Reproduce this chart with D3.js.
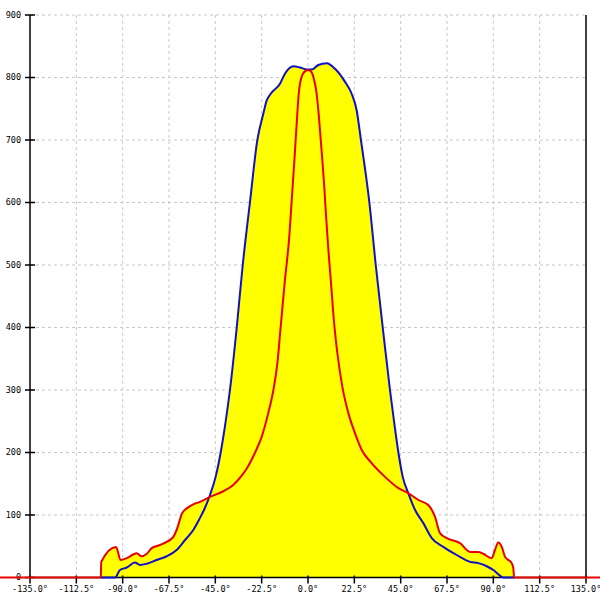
<!DOCTYPE html>
<html><head><meta charset="utf-8">
<script src="https://cdn.jsdelivr.net/npm/d3@7"></script>
<style>body{margin:0;background:#fff}svg{display:block}</style>
</head><body>
<svg id="c" width="600" height="600"></svg>
<script>
const xTicks = [-135, -112.5, -90, -67.5, -45, -22.5, 0, 22.5, 45, 67.5, 90, 112.5, 135];
const yTicks = [0, 100, 200, 300, 400, 500, 600, 700, 800, 900];

const blueAngles = [-100.6,-93.7,-91.3,-88,-84,-81.6,-78.3,-73.5,-68.6,-63.8,-59.7,-55.7,-52.5,-50.5,-47.6,-44.7,-42.4,-40.1,-37.9,-34.6,-31.7,-28.2,-24.6,-21.7,-20.1,-18.1,-13.6,-11.2,-7.1,-3.9,-0.6,2,5,9.1,13.1,18,21.2,23.6,25.7,29.8,32.9,36.3,39.8,41.9,43.9,46,48.7,52,56,60.1,65.7,72.2,78.7,82.7,86.8,90,93.2,94.7,100.1];
const blueValues = [0,0,12,16,24,20,22,28,34,44,60,76,95,108,132,163,200,247,300,400,500,600,700,742,763,774,790,806,818,816,813,813,820,823,814,793,774,748,700,600,500,400,300,247,200,161,135,108,87,63,49,36,25,23,18,12,3,0,0];

const redAngles = [-180,-100.6,-100.4,-93.2,-91,-88,-83.2,-80.8,-78.3,-75.9,-71.9,-68.6,-65.4,-63.8,-61.1,-58.7,-55.7,-52.5,-47.6,-41.1,-36.3,-32.2,-29.8,-25.7,-22.5,-19.3,-16.8,-14.9,-13.3,-11.2,-9.1,-7.9,-6.6,-5.5,-4.5,-3.1,-1,0,1,2.6,4.2,5.3,6.6,7.8,8.8,9.9,11.2,12.6,14.3,16.8,19.6,22.8,26.1,30.9,37.4,43.9,48.7,53.6,58.4,61.7,64.1,67.4,73.8,78.7,82.7,85.1,89.2,90.8,92.4,94.1,95.7,98.9,99.7,100.1,180];
const redValues = [0,0,25,49,28,31,39,34,38,47,52,57,65,76,103,111,117,121,129,138,148,163,174,200,225,263,300,342,400,476,545,604,668,726,774,801,811,812,811,801,774,737,683,630,577,524,470,410,358,303,263,231,204,183,161,143,135,124,116,97,71,63,55,41,41,38,31,44,56,49,33,23,15,0,0];

const svg = d3.select('#c');
const x = d3.scaleLinear().domain([-135, 135]).range([30, 586]);
const y = d3.scaleLinear().domain([0, 900]).range([577.5, 15]);

const blue = blueAngles.map((a, i) => [a, blueValues[i]]);
const red = redAngles.map((a, i) => [a, redValues[i]]);

// grid
svg.append('g').selectAll('line').data(xTicks.filter(d => d > -135 && d < 135)).join('line')
  .attr('x1', d => x(d)).attr('x2', d => x(d)).attr('y1', y(900)).attr('y2', y(0))
  .attr('stroke', '#c8c8c8').attr('stroke-dasharray', '3,3');
svg.append('g').selectAll('line').data(yTicks.filter(d => d > 0)).join('line')
  .attr('x1', x(-135)).attr('x2', x(135)).attr('y1', d => y(d)).attr('y2', d => y(d))
  .attr('stroke', '#c8c8c8').attr('stroke-dasharray', '3,3');

const curve = d3.curveMonotoneX;
const area = d3.area().x(d => x(d[0])).y0(y(0)).y1(d => y(d[1])).curve(curve);
const line = d3.line().x(d => x(d[0])).y(d => y(d[1])).curve(curve);

svg.append('path').datum(red).attr('d', area).attr('fill', '#ffff00');
svg.append('path').datum(blue).attr('d', area).attr('fill', '#ffff00');

// axes
const font = '"DejaVu Sans Mono", monospace';
svg.append('line').attr('x1', x(-135)).attr('x2', x(-135)).attr('y1', y(900)).attr('y2', y(0)).attr('stroke', '#000').attr('stroke-width', 1.5);
svg.append('line').attr('x1', x(135)).attr('x2', x(135)).attr('y1', y(900)).attr('y2', y(0)).attr('stroke', '#000').attr('stroke-width', 1.5);
svg.append('line').attr('x1', x(-135)).attr('x2', x(135)).attr('y1', y(0)).attr('y2', y(0)).attr('stroke', '#000').attr('stroke-width', 1.5);

svg.append('g').selectAll('line').data(yTicks).join('line')
  .attr('x1', x(-135) - 5).attr('x2', x(-135) + 5).attr('y1', d => y(d)).attr('y2', d => y(d))
  .attr('stroke', '#000').attr('stroke-width', 1.5);
svg.append('g').selectAll('text').data(yTicks).join('text')
  .attr('x', 21).attr('y', d => y(d)).attr('dy', '0.35em').attr('text-anchor', 'end')
  .attr('font-family', font).attr('font-size', 8.5).attr('fill', '#000').text(d => d);

svg.append('g').selectAll('line').data(xTicks).join('line')
  .attr('x1', d => x(d)).attr('x2', d => x(d)).attr('y1', y(0) - 2).attr('y2', y(0) + 6)
  .attr('stroke', '#000').attr('stroke-width', 1.5);
svg.append('g').selectAll('text').data(xTicks).join('text')
  .attr('x', d => x(d)).attr('y', 592).attr('text-anchor', 'middle')
  .attr('font-family', font).attr('font-size', 8.5).attr('fill', '#000')
  .text(d => (d < 0 ? '-' : '') + Math.abs(d).toFixed(1) + '\u00b0');

svg.append('path').datum(blue).attr('d', line).attr('fill', 'none').attr('stroke', '#1010c8').attr('stroke-width', 2);
svg.append('path').datum(red).attr('d', line).attr('fill', 'none').attr('stroke', '#e80000').attr('stroke-width', 2);
</script>
</body></html>
